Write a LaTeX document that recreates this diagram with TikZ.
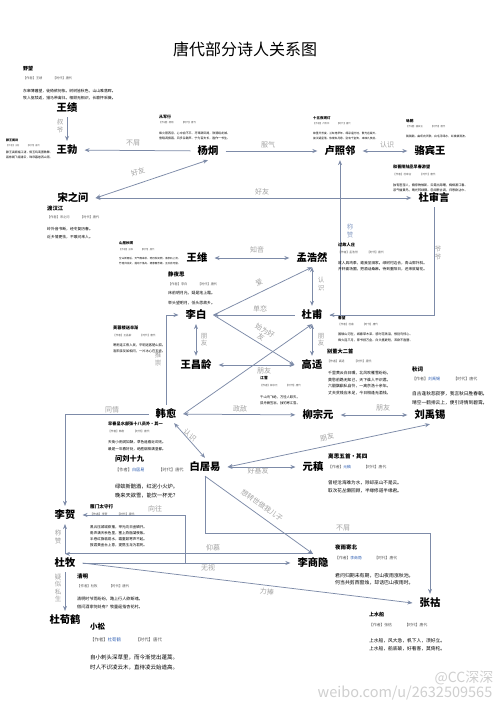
\documentclass[tikz,border=0pt]{standalone}
\usepackage{fontspec}
\setmainfont{Noto Sans CJK SC}
\usetikzlibrary{arrows.meta}
\definecolor{linec}{HTML}{7D8BA8}
\definecolor{labc}{HTML}{A3A3A3}
\definecolor{vlabc}{HTML}{8FA3C8}
\definecolor{authc}{HTML}{555555}
\definecolor{bluec}{HTML}{2F5FB3}
\definecolor{wmc}{HTML}{CFCFCF}
\tikzset{
  pname/.style={font=\bfseries\fontsize{10.3}{12}\selectfont, inner xsep=7pt, inner ysep=4pt},
  conn/.style={draw=linec, line width=0.75pt, -{Stealth[length=5pt,width=4pt]}},
  conn2/.style={draw=linec, line width=0.75pt, {Stealth[length=5pt,width=4pt]}-{Stealth[length=5pt,width=4pt]}},
  lab/.style={font=\fontsize{7}{8}\selectfont, text=labc, inner sep=0pt},
  vlab/.style={font=\fontsize{6.5}{7.2}\selectfont, text=labc, inner sep=0pt, align=center},
  ptl/.style={anchor=west, inner sep=0pt, font=\bfseries\fontsize{#1}{#1}\selectfont},
  pau/.style={anchor=west, inner sep=0pt, text=authc, font=\fontsize{#1}{#1}\selectfont},
  pbd/.style args={#1/#2}{anchor=north west, inner sep=0pt, align=left, font=\fontsize{#1}{#2}\selectfont},
  wmark/.style={text=wmc, inner sep=0pt, font=\fontsize{#1}{#1}\selectfont},
}
\newcommand\auth[1]{【作者】#1\hspace{3.3em}【时代】唐代}
\begin{document}
\begin{tikzpicture}[x=1pt,y=-1pt]
\useasboundingbox (0,0) rectangle (500,707);
\fill[white] (0,0) rectangle (500,707);

\node (title) at (245,49) {\fontsize{16}{16}\selectfont 唐代部分诗人关系图};

% ---------- poets ----------
\node[pname] (wangji) at (67,108) {王绩};
\node[pname] (wangbo) at (67,150) {王勃};
\node[pname] (yangjiong) at (208,151) {杨炯};
\node[pname] (luzhaolin) at (340,151) {卢照邻};
\node[pname] (luobinwang) at (430,151) {骆宾王};
\node[pname] (songzhiwen) at (73,198) {宋之问};
\node[pname] (dushenyan) at (434,198) {杜审言};
\node[pname] (wangwei) at (197,258) {王维};
\node[pname] (menghaoran) at (312,258) {孟浩然};
\node[pname] (libai) at (196,315) {李白};
\node[pname] (dufu) at (312,315) {杜甫};
\node[pname] (wangchangling) at (196,365) {王昌龄};
\node[pname] (gaoshi) at (312,365) {高适};
\node[pname] (hanyu) at (166,414) {韩愈};
\node[pname] (liuzongyuan) at (318,415) {柳宗元};
\node[pname] (liuyuxi) at (430,415) {刘禹锡};
\node[pname] (baijuyi) at (205,467) {白居易};
\node[pname] (yuanzhen) at (313,467) {元稹};
\node[pname] (lihe) at (65,515) {李贺};
\node[pname] (dumu) at (65,563) {杜牧};
\node[pname] (lishangyin) at (313,563) {李商隐};
\node[pname] (zhanghu) at (430,603) {张祜};
\node[pname] (duxunhe) at (65,620) {杜荀鹤};

\coordinate (bjyturn) at (205,533);
\coordinate (xwstart) at (185,563);

% ---------- connectors ----------
\draw[conn] (wangji) -- (wangbo);
\draw[conn] (yangjiong) -- (wangbo);
\draw[conn] (yangjiong) -- (luzhaolin);
\draw[conn2] (luzhaolin) -- (luobinwang);
\draw[conn2] (songzhiwen.east) -- (yangjiong.south);
\draw[conn2] (songzhiwen) -- (dushenyan);
\draw[conn] (dufu.east) -| (luzhaolin.south);
\draw[conn] (dushenyan.south) |- (dufu.east);
\draw[conn2] (wangwei) -- (menghaoran);
\draw[conn2] (menghaoran) -- (dufu);
\draw[conn] (libai.east) -- (menghaoran.south);
\draw[conn] (dufu) -- (libai);
\draw[conn] (libai.east) -- (gaoshi.west);
\draw[conn] (hanyu.east) -- (dufu.south);
\draw[conn2] (libai) -- (wangchangling);
\draw[conn2] (dufu) -- (gaoshi);
\draw[conn2] (wangchangling) -- (gaoshi);
\draw[conn] (hanyu.north) |- (libai.west);
\draw[conn] (hanyu.west) -| (lihe.north);
\draw[conn2] (hanyu) -- (liuzongyuan);
\draw[conn2] (liuzongyuan) -- (liuyuxi);
\draw[conn2] (hanyu) -- (baijuyi.north);
\draw[conn2] (baijuyi.east) -- (liuyuxi.south);
\draw[conn2] (baijuyi) -- (yuanzhen);
\draw[conn] (baijuyi.south) -- (lishangyin.north);
\draw[conn] (baijuyi.south) -- (bjyturn) -| (zhanghu.north);
\draw[conn] (xwstart) |- (lihe.east);
\draw[conn] (dumu.north) -- (lihe.south);
\draw[conn] (lishangyin.north) -- (lishangyin.north -| dumu.north);
\draw[conn] (dumu) -- (lishangyin);
\draw[conn] (dumu.east) -- (zhanghu.west);
\draw[conn] (dumu) -- (duxunhe);

% ---------- labels ----------
\node[vlab] (l1) at (60,126) {叔\\爷};
\node[lab] (l2) at (133,143) {不屑};
\node[lab] (l3) at (268,145) {服气};
\node[lab] (l4) at (387,145) {认识};
\node[lab,rotate=18] (l5) at (138,172) {好友};
\node[lab] (l6) at (262,192) {好友};
\node[vlab,text=vlabc] (l7) at (350,231) {称\\赞};
\node[vlab] (l8) at (438,253) {爷\\爷};
\node[lab] (l9) at (257,250) {知音};
\node[vlab] (l10) at (321,284) {认\\识};
\node[lab,rotate=26] (l11) at (259,283) {爱};
\node[lab] (l12) at (260,309) {单恋};
\node[lab,rotate=-31,align=center] (l13) at (263,334) {始为好\\友};
\node[vlab] (l14) at (204,340) {朋\\友};
\node[vlab] (l15) at (321,340) {朋\\友};
\node[lab] (l16) at (264,371) {朋友};
\node[vlab] (l17) at (158,359) {推\\崇};
\node[lab] (l18) at (112,410) {同情};
\node[lab] (l19) at (240,409) {政敌};
\node[lab] (l20) at (383,408) {朋友};
\node[lab,rotate=-40] (l21) at (190,435) {认识};
\node[lab,rotate=11.5] (l22) at (327,437) {朋友};
\node[lab] (l23) at (258,471) {好基友};
\node[lab,rotate=-35] (l24) at (262,505) {想转世做我儿子};
\node[lab] (l25) at (343,528) {不屑};
\node[lab] (l26) at (155,509) {向往};
\node[vlab] (l27) at (58,537) {称\\赞};
\node[lab] (l28) at (213,548) {仰慕};
\node[lab] (l29) at (208,568) {无视};
\node[lab,rotate=-7] (l30) at (267,592) {力捧};
\node[vlab] (l31) at (58,588) {疑\\似\\私\\生};

% ---------- poems ----------
\node[ptl=5] (p1t) at (23,69) {野望};
\node[pau=3.2] (p1a) at (23,78) {\auth{王绩}};
\node[pbd=3.85/6.5] (p1b) at (23,89.3) {东皋薄暮望，徙倚欲何依。树树皆秋色，山山唯落晖。\\牧人驱犊返，猎马带禽归。相顾无相识，长歌怀采薇。};

\node[ptl=3] (p2t) at (6,140) {滕王阁诗};
\node[pau=2.2] (p2a) at (6,146) {\auth{王勃}};
\node[pbd=2.9/5] (p2b) at (6,150.7) {滕王高阁临江渚，佩玉鸣鸾罢歌舞。\\画栋朝飞南浦云，珠帘暮卷西山雨。};

\node[ptl=4] (p3t) at (159,117) {从军行};
\node[pau=2.4] (p3a) at (159,123) {\auth{杨炯}};
\node[pbd=2.95/5] (p3b) at (159,131.7) {烽火照西京，心中自不平。牙璋辞凤阙，铁骑绕龙城。\\雪暗凋旗画，风多杂鼓声。宁为百夫长，胜作一书生。};

\node[ptl=3.5] (p4t) at (313,118) {十五夜观灯};
\node[pau=2.3] (p4a) at (313,124) {\auth{卢照邻}};
\node[pbd=2.7/4.8] (p4b) at (313,131.8) {锦里开芳宴，兰缸艳早年。缛彩遥分地，繁光远缀天。\\接汉疑星落，依楼似月悬。别有千金笑，来映九枝前。};

\node[ptl=3.7] (p5t) at (406,121) {咏鹅};
\node[pau=2.4] (p5a) at (406,127) {\auth{骆宾王}};
\node[pbd=2.8/5] (p5b) at (406,134.7) {鹅鹅鹅，曲项向天歌。白毛浮绿水，红掌拨清波。};

\node[ptl=4.1] (p6t) at (393,167) {和晋陵陆丞早春游望};
\node[pau=2.6] (p6a) at (393,174) {\auth{杜审言}};
\node[pbd=3.1/5.3] (p6b) at (393,183.6) {独有宦游人，偏惊物候新。云霞出海曙，梅柳渡江春。\\淑气催黄鸟，晴光转绿蘋。忽闻歌古调，归思欲沾巾。};

\node[ptl=5.3] (p7t) at (47,208) {渡汉江};
\node[pau=3.2] (p7a) at (47,217) {\auth{宋之问}};
\node[pbd=3.8/7.5] (p7b) at (47,227.3) {岭外音书断，经冬复历春。\\近乡情更怯，不敢问来人。};

\node[ptl=3.5] (p8t) at (119,243) {山居秋暝};
\node[pau=2.3] (p8a) at (119,250) {\auth{王维}};
\node[pbd=2.55/5] (p8b) at (119,256.9) {空山新雨后，天气晚来秋。明月松间照，清泉石上流。\\竹喧归浣女，莲动下渔舟。随意春芳歇，王孙自可留。};

\node[ptl=5.5] (p9t) at (168,274) {静夜思};
\node[pau=3.2] (p9a) at (168,284) {\auth{李白}};
\node[pbd=3.9/9.4] (p9b) at (168,291.5) {床前明月光，疑是地上霜。\\举头望明月，低头思故乡。};

\node[ptl=4.2] (p10t) at (338,245) {过故人庄};
\node[pau=2.8] (p10a) at (338,252) {\auth{孟浩然}};
\node[pbd=3.7/6.2] (p10b) at (338,261.3) {故人具鸡黍，邀我至田家。绿树村边合，青山郭外斜。\\开轩面场圃，把酒话桑麻。待到重阳日，还来就菊花。};

\node[ptl=3.7] (p11t) at (338,318) {春望};
\node[pau=2.6] (p11a) at (338,324) {\auth{杜甫}};
\node[pbd=3.1/5.7] (p11b) at (338,332.6) {国破山河在，城春草木深。感时花溅泪，恨别鸟惊心。\\烽火连三月，家书抵万金。白头搔更短，浑欲不胜簪。};

\node[ptl=4.2] (p12t) at (113,328) {芙蓉楼送辛渐};
\node[pau=2.6] (p12a) at (113,335) {\auth{王昌龄}};
\node[pbd=3.25/5.8] (p12b) at (113,343.5) {寒雨连江夜入吴，平明送客楚山孤。\\洛阳亲友如相问，一片冰心在玉壶。};

\node[ptl=5.2] (p13t) at (327,352) {别董大二首};
\node[pau=2.9] (p13a) at (327,361) {\auth{高适}};
\node[pbd=3.9/6.5] (p13b) at (328,371.3) {千里黄云白日曛，北风吹雁雪纷纷。\\莫愁前路无知己，天下谁人不识君。\\六翮飘飖私自怜，一离京洛十余年。\\丈夫贫贱应未足，今日相逢无酒钱。};

\node[ptl=3.8] (p14t) at (260,378) {江雪};
\node[pau=2.5] (p14a) at (260,386) {\auth{柳宗元}};
\node[pbd=3.3/6] (p14b) at (260,395.5) {千山鸟飞绝，万径人踪灭。\\孤舟蓑笠翁，独钓寒江雪。};

\node[ptl=5.5] (p15t) at (412,369) {秋词};
\node[pau=4] (p15a) at (412,379) {\auth{\textcolor{bluec}{刘禹锡}}};
\node[pbd=4.7/9] (p15b) at (412,390.9) {自古逢秋悲寂寥，我言秋日胜春朝。\\晴空一鹤排云上，便引诗情到碧霄。};

\node[ptl=4.2] (p16t) at (108,424) {早春呈水部张十八员外·其一};
\node[pau=2.7] (p16a) at (108,431) {\auth{韩愈}};
\node[pbd=3.6/6.8] (p16b) at (108,440.4) {天街小雨润如酥，草色遥看近却无。\\最是一年春好处，绝胜烟柳满皇都。};

\node[ptl=7.2] (p17t) at (115,459) {问刘十九};
\node[pau=4.2] (p17a) at (115,470) {\auth{\textcolor{bluec}{白居易}}};
\node[pbd=5.25/9.5] (p17b) at (115,483.6) {绿蚁新醅酒，红泥小火炉。\\晚来天欲雪，能饮一杯无？};

\node[ptl=5.6] (p18t) at (328,456) {离思五首·其四};
\node[pau=3.8] (p18a) at (328,467) {\auth{\textcolor{bluec}{元稹}}};
\node[pbd=4.6/8.5] (p18b) at (328,480) {曾经沧海难为水，除却巫山不是云。\\取次花丛懒回顾，半缘修道半缘君。};

\node[ptl=4.6] (p19t) at (90,507) {雁门太守行};
\node[pau=2.9] (p19a) at (90,514) {\auth{李贺}};
\node[pbd=3.55/5.8] (p19b) at (90,525.4) {黑云压城城欲摧，甲光向日金鳞开。\\角声满天秋色里，塞上燕脂凝夜紫。\\半卷红旗临易水，霜重鼓寒声不起。\\报君黄金台上意，提携玉龙为君死。};

\node[ptl=5.5] (p20t) at (77,576) {清明};
\node[pau=3.4] (p20a) at (77,586) {\auth{杜牧}};
\node[pbd=4.1/7.3] (p20b) at (77,597.2) {清明时节雨纷纷，路上行人欲断魂。\\借问酒家何处有？牧童遥指杏花村。};

\node[ptl=7.5] (p21t) at (90,627) {小松};
\node[pau=4.4] (p21a) at (90,640) {\auth{\textcolor{bluec}{杜荀鹤}}};
\node[pbd=5.5/10] (p21b) at (90,654.5) {自小刺头深草里，而今渐觉出蓬蒿。\\时人不识凌云木，直待凌云始道高。};

\node[ptl=5.5] (p22t) at (335,547) {夜雨寄北};
\node[pau=3.8] (p22a) at (335,558) {\auth{\textcolor{bluec}{李商隐}}};
\node[pbd=4.9/7.8] (p22b) at (335,572.8) {君问归期未有期，巴山夜雨涨秋池。\\何当共剪西窗烛，却话巴山夜雨时。};

\node[ptl=5] (p23t) at (369,615) {上水船};
\node[pau=3.8] (p23a) at (369,625) {\auth{张祜}};
\node[pbd=4.75/8] (p23b) at (369,637.9) {上水船，风大急，帆下人，须好立。\\上水船，船底破，好看客，莫倚柁。};

% ---------- watermark ----------
\node[wmark=14] (wm1) at (464,678) {@CC深深};
\node[wmark=14.5] (wm2) at (405,693) {weibo.com/u/2632509565};
\end{tikzpicture}
\end{document}
